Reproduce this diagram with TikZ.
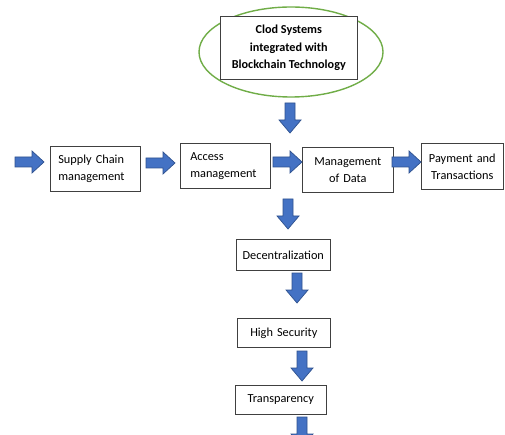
\documentclass[tikz,border=0pt]{standalone}
\usepackage{fontspec}
\setmainfont{Carlito}
\definecolor{arrowblue}{HTML}{4472C4}
\definecolor{arrowedge}{HTML}{2F528F}
\definecolor{ringgreen}{HTML}{70AD47}
\tikzset{
  box/.style={draw=black!75, line width=0.6pt, fill=white, anchor=north west,
    inner sep=0pt, font=\fontsize{12.3}{17}\selectfont},
  blockarrow/.style={fill=arrowblue, draw=arrowedge, line width=0.7pt, line join=miter},
  rarr/.pic={\path[blockarrow] (0,-5) -- (17,-5) -- (17,-11) -- (29,0) -- (17,11) -- (17,5) -- (0,5) -- cycle;},
  darr/.pic={\path[blockarrow] (-5,0) -- (-5,17) -- (-11,17) -- (0,30) -- (11,17) -- (5,17) -- (5,0) -- cycle;},
}
\begin{document}
\begin{tikzpicture}[x=1pt,y=-1pt]
\useasboundingbox (0,0) rectangle (505,435);
\clip (0,0) rectangle (505,435);
\fill[white] (0,0) rectangle (505,435);
% top
\draw[ringgreen, line width=1.4pt] (291,52) ellipse [x radius=92, y radius=45];
\node[box, minimum width=137pt, minimum height=63pt, align=center,
  font=\fontsize{12.2}{17.5}\selectfont\bfseries] (top) at (220,16)
  {Clod Systems\\integrated with\\Blockchain Technology};
% row
\node[box, minimum width=90pt, minimum height=45pt, text width=74pt, inner xsep=8pt, align=left]
  (supply) at (50,146) {Supply Chain\\management};
\node[box, minimum width=90pt, minimum height=45pt, text width=70pt, inner xsep=10pt, align=left]
  (access) at (180,143) {Access\\management};
\node[box, minimum width=91pt, minimum height=45pt, text width=91pt, align=center]
  (data) at (302,147) {Management\\of Data};
\node[box, minimum width=82pt, minimum height=46pt, text width=82pt, align=center]
  (pay) at (421,143) {Payment and\\Transactions};
% column
\node[box, minimum width=94pt, minimum height=31pt, text width=94pt, align=center]
  (dec) at (236,239) {Decentralization};
\node[box, minimum width=93pt, minimum height=29pt, text width=93pt, align=center]
  (sec) at (237,318) {High Security};
\node[box, minimum width=91pt, minimum height=29pt, text width=91pt, align=center]
  (tra) at (235,385) {Transparency};
% arrows
\pic (a0) at (290,103) {darr};
\pic (a1) at (15,162) {rarr};
\pic (a2) at (146,163) {rarr};
\pic (a3) at (273,162) {rarr};
\pic (a4) at (392,162) {rarr};
\pic (d1) at (288,199) {darr};
\pic (d2) at (297,273) {darr};
\pic (d3) at (302,351) {darr};
\pic (d4) at (302,417) {darr};
\end{tikzpicture}
\end{document}
